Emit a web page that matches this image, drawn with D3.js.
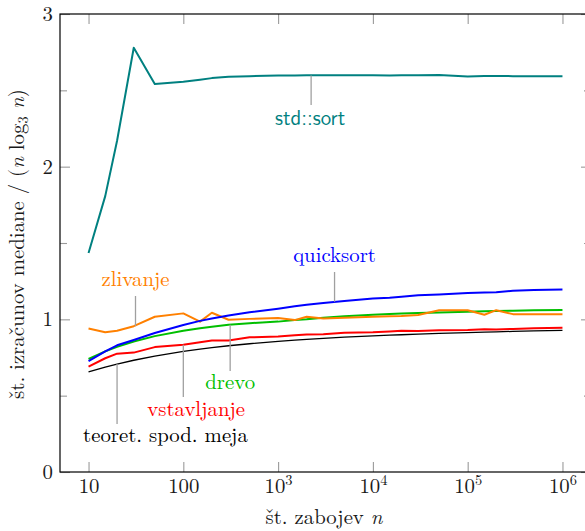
<!DOCTYPE html>
<html>
<head>
<meta charset="utf-8">
<script src="https://cdn.jsdelivr.net/npm/d3@7"></script>
<style>
  body { margin: 0; background: #fff; }
  svg { display: block; }
</style>
</head>
<body>
<svg></svg>
<script>
// number of keys n
const nValues = [10, 15, 20, 30, 50, 100, 150, 200, 300, 500,
  1e3, 1.5e3, 2e3, 3e3, 5e3, 1e4, 1.5e4, 2e4, 3e4, 5e4,
  1e5, 1.5e5, 2e5, 3e5, 5e5, 1e6];

// median comparisons / (n log3 n)
const stdSort = [1.434, 1.807, 2.17, 2.779, 2.541, 2.556, 2.570, 2.580, 2.589, 2.593,
  2.597, 2.597, 2.598, 2.598, 2.598, 2.598, 2.597, 2.598, 2.598, 2.601,
  2.591, 2.594, 2.594, 2.593, 2.593, 2.593];
const quicksort = [0.727, 0.79, 0.83, 0.865, 0.91, 0.963, 0.99, 1.005, 1.025, 1.046,
  1.07, 1.085, 1.095, 1.107, 1.12, 1.136, 1.142, 1.148, 1.157, 1.162,
  1.172, 1.176, 1.178, 1.187, 1.192, 1.196];
const zlivanje = [0.94, 0.915, 0.925, 0.955, 1.017, 1.039, 0.985, 1.043, 0.997, 1.003,
  1.008, 0.995, 1.017, 1.005, 1.01, 1.017, 1.02, 1.022, 1.028, 1.06,
  1.06, 1.03, 1.06, 1.034, 1.034, 1.034];
const drevo = [0.74, 0.79, 0.82, 0.855, 0.89, 0.925, 0.942, 0.952, 0.965, 0.975,
  0.985, 0.995, 1.0, 1.01, 1.02, 1.03, 1.035, 1.038, 1.042, 1.045,
  1.05, 1.053, 1.055, 1.057, 1.059, 1.061];
const vstavljanje = [0.69, 0.745, 0.775, 0.782, 0.818, 0.834, 0.85, 0.862, 0.862, 0.882,
  0.888, 0.895, 0.9, 0.903, 0.912, 0.915, 0.92, 0.925, 0.924, 0.928,
  0.93, 0.935, 0.934, 0.937, 0.941, 0.945];
const spodnjaMeja = [0.656, 0.687, 0.707, 0.732, 0.759, 0.79, 0.805, 0.815, 0.827, 0.840,
  0.856, 0.864, 0.869, 0.875, 0.883, 0.892, 0.896, 0.899, 0.903, 0.908,
  0.913, 0.916, 0.918, 0.921, 0.924, 0.928];

const xTicks = [10, 100, 1e3, 1e4, 1e5, 1e6];
const yTicks = [0, 1, 2, 3];
const yMinorTicks = [0.5, 1.5, 2.5];

const width = 585, height = 531;
const serif = "'Latin Modern Roman', 'Liberation Serif', serif";
const sans = "'Latin Modern Sans', Lato, sans-serif";
const fs = 20.8;
const svg = d3.select("svg").attr("width", width).attr("height", height);

const x = d3.scaleLog().domain([5, 2e6]).range([60, 591]);
const y = d3.scaleLinear().domain([0, 3]).range([472, 14]);

const series = [
  { values: spodnjaMeja, color: "#000000", w: 1.3 },
  { values: vstavljanje, color: "#ff0000", w: 2 },
  { values: drevo, color: "#00bf00", w: 2 },
  { values: zlivanje, color: "#ff8000", w: 2 },
  { values: quicksort, color: "#0000ff", w: 2 },
  { values: stdSort, color: "#008080", w: 2 }
];

// ticks (gray, pointing inward)
function styleAxis(g) {
  g.select(".domain").remove();
  g.selectAll(".tick line").attr("stroke", "#9a9a9a").attr("stroke-width", 1.1);
  g.selectAll(".tick text")
    .style("font-family", serif).style("font-size", fs + "px").attr("fill", "#1a1a1a");
}

const bottom = svg.append("g").attr("transform", "translate(0,472)")
  .call(d3.axisBottom(x).tickValues(xTicks).tickSize(-10).tickSizeOuter(0).tickPadding(6).tickFormat(""))
  .call(styleAxis);
bottom.selectAll(".tick text").each(function(d) {
  const t = d3.select(this);
  const e = Math.round(Math.log10(d));
  if (e <= 2) {
    t.text(d3.format("d")(d));
  } else {
    t.append("tspan").text("10");
    t.append("tspan").attr("dy", -8).style("font-size", "14.5px").text(e);
  }
});

svg.append("g").attr("transform", "translate(0,14)")
  .call(d3.axisTop(x).tickValues(xTicks).tickSize(-10).tickSizeOuter(0).tickFormat(""))
  .call(styleAxis);

svg.append("g").attr("transform", "translate(60,0)")
  .call(d3.axisLeft(y).tickValues(yTicks).tickSize(-10).tickSizeOuter(0).tickPadding(7).tickFormat(d3.format("d")))
  .call(styleAxis);
svg.append("g").attr("transform", "translate(60,0)")
  .call(d3.axisLeft(y).tickValues(yMinorTicks).tickSize(-7).tickSizeOuter(0).tickFormat(""))
  .call(styleAxis);
svg.append("g").attr("transform", "translate(591,0)")
  .call(d3.axisRight(y).tickValues(yTicks).tickSize(-10).tickSizeOuter(0).tickFormat(""))
  .call(styleAxis);
svg.append("g").attr("transform", "translate(591,0)")
  .call(d3.axisRight(y).tickValues(yMinorTicks).tickSize(-7).tickSizeOuter(0).tickFormat(""))
  .call(styleAxis);

// frame
svg.append("rect")
  .attr("x", 60).attr("y", 14).attr("width", 531).attr("height", 458)
  .attr("fill", "none").attr("stroke", "#000").attr("stroke-width", 1.2);

// lines
const line = d3.line()
  .x((d, i) => x(nValues[i]))
  .y(d => y(d));

svg.append("g")
  .selectAll("path")
  .data(series)
  .join("path")
  .attr("d", d => line(d.values))
  .attr("fill", "none")
  .attr("stroke", d => d.color)
  .attr("stroke-width", d => d.w)
  .attr("stroke-linejoin", "round");

// pins with labels
const pins = [
  { label: "std::sort", n: 2230, v: 2.597, y2: 105, ty: 125, color: "#008080", sans: true, anchor: "middle", dx: -1 },
  { label: "quicksort", n: 3940, v: 1.115, y2: 272, ty: 262, color: "#0000ff", anchor: "middle", dx: 0 },
  { label: "zlivanje", n: 31.3, v: 0.955, y2: 296, ty: 286, color: "#ff8000", anchor: "middle", dx: 0 },
  { label: "drevo", n: 312, v: 0.965, y2: 371, ty: 389, color: "#00bf00", anchor: "middle", dx: 0 },
  { label: "vstavljanje", n: 100, v: 0.834, y2: 397, ty: 416, color: "#ff0000", anchor: "start", dx: -36 },
  { label: "teoret. spod. meja", n: 20, v: 0.707, y2: 424, ty: 442, color: "#000000", anchor: "start", dx: -34 }
];

const pg = svg.append("g");
pg.selectAll("line")
  .data(pins)
  .join("line")
  .attr("x1", d => x(d.n)).attr("x2", d => x(d.n))
  .attr("y1", d => y(d.v)).attr("y2", d => d.y2)
  .attr("stroke", "#a0a0a0").attr("stroke-width", 1.3);
pg.selectAll("text")
  .data(pins)
  .join("text")
  .attr("x", d => x(d.n) + d.dx)
  .attr("y", d => d.ty)
  .attr("text-anchor", d => d.anchor)
  .attr("fill", d => d.color)
  .style("font-family", d => d.sans ? sans : serif)
  .style("font-size", fs + "px")
  .text(d => d.label);

// axis titles
const xl = svg.append("text")
  .attr("x", 324).attr("y", 524)
  .attr("text-anchor", "middle").attr("fill", "#1a1a1a")
  .style("font-family", serif).style("font-size", fs + "px");
xl.append("tspan").text("št. zabojev ");
xl.append("tspan").style("font-style", "italic").text("n");

const yl = svg.append("text")
  .attr("transform", "translate(24,244) rotate(-90)")
  .attr("text-anchor", "middle").attr("fill", "#1a1a1a")
  .style("font-family", serif).style("font-size", fs + "px");
yl.append("tspan").text("št. izračunov mediane / (");
yl.append("tspan").style("font-style", "italic").text("n");
yl.append("tspan").text(" log");
yl.append("tspan").attr("dy", 4).style("font-size", "14.5px").text("3");
yl.append("tspan").attr("dy", -4).style("font-style", "italic").text(" n");
yl.append("tspan").text(")");
</script>
</body>
</html>
